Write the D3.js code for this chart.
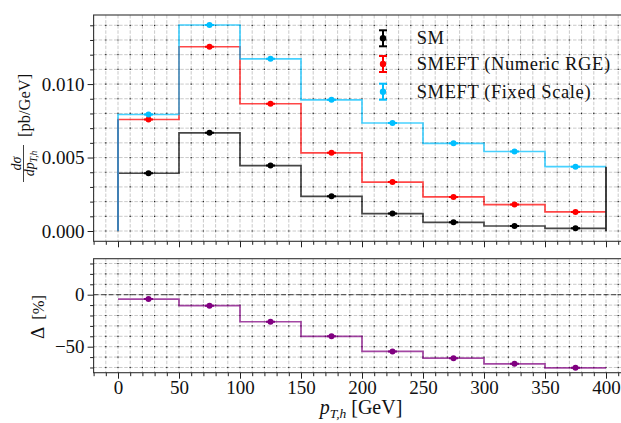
<!DOCTYPE html>
<html><head><meta charset="utf-8">
<script src="https://cdn.jsdelivr.net/npm/d3@7"></script>
<style>
body{margin:0;background:#fff}
svg{display:block}
text{font-family:"Liberation Serif","DejaVu Serif","Times New Roman",serif;fill:#111}
</style>
</head><body>
<svg id="c" width="621" height="423"></svg>
<script>
// ---------- data ----------
const binEdges   = [0, 50, 100, 150, 200, 250, 300, 350, 400];
const binCenters = [25, 75, 125, 175, 225, 275, 325, 375];
const smValues       = [0.00393, 0.00668, 0.00445, 0.00236, 0.00119, 0.00059, 0.00034, 0.00018];
const numericValues  = [0.00759, 0.01254, 0.00866, 0.00532, 0.00333, 0.00232, 0.00180, 0.00130];
const fixedValues    = [0.00793, 0.01402, 0.01172, 0.00893, 0.00735, 0.00597, 0.00541, 0.00438];
const deltaValues    = [-4.2, -10.6, -26.0, -40.0, -54.5, -61.0, -66.5, -70.3];
const seriesNames    = ["SM", "SMEFT (Numeric RGE)", "SMEFT (Fixed Scale)"];
const seriesColors   = ["#000000", "#ff0000", "#00bfff"];
const deltaColor     = "#800080";

const xMajorTicks  = [0, 50, 100, 150, 200, 250, 300, 350, 400];
const xTickLabels  = ["0", "50", "100", "150", "200", "250", "300", "350", "400"];
const topYTicks    = [0, 0.005, 0.010];
const topYLabels   = ["0.000", "0.005", "0.010"];
const botYTicks    = [-50, 0];
const botYLabels   = ["\u221250", "0"];

// ---------- layout ----------
const svg = d3.select("#c");
const L = 93.6, R = 630.4, T1 = 15, B1 = 241.3, T2 = 258.7, B2 = 372.7;
const x  = d3.scaleLinear().domain([-20, 420]).range([L, R]);
const y1 = d3.scaleLinear().domain([-0.0007, 0.0147]).range([B1, T1]);
const y2 = d3.scaleLinear().domain([-75, 34.6]).range([B2, T2]);

const xMinor = d3.range(-20, 421, 10);
const y1Minor = d3.range(0, 0.01451, 0.001);
const y2Minor = d3.range(-70, 31, 10);

const defs = svg.append("defs");
defs.append("clipPath").attr("id", "clip1").append("rect")
  .attr("x", L).attr("y", T1).attr("width", R - L).attr("height", B1 - T1);
defs.append("clipPath").attr("id", "clip2").append("rect")
  .attr("x", L).attr("y", T2).attr("width", R - L).attr("height", B2 - T2);

function drawGrid(g, yScale, yVals, top, bottom) {
  const step = x(10) - x(0);
  g.selectAll(".gv").data(xMinor).join("line")
    .attr("x1", d => x(d)).attr("x2", d => x(d))
    .attr("y1", top).attr("y2", bottom)
    .attr("stroke", "#bdbdbd").attr("stroke-width", 0.8)
    .attr("stroke-dasharray", "3.5,1.6");
  g.selectAll(".gh").data(yVals).join("line")
    .attr("x1", L).attr("x2", R)
    .attr("y1", d => yScale(d)).attr("y2", d => yScale(d))
    .attr("stroke", "#bdbdbd").attr("stroke-width", 0.8)
    .attr("stroke-dasharray", "3.5,1.6");
  g.selectAll(".gd").data(yVals).join("line")
    .attr("x1", x(-20) - 0.6).attr("x2", R)
    .attr("y1", d => yScale(d)).attr("y2", d => yScale(d))
    .attr("stroke", "#222").attr("stroke-width", 1.2)
    .attr("stroke-dasharray", `1.2,${step - 1.2}`);
}

// ---------- top panel ----------
const g1 = svg.append("g").attr("clip-path", "url(#clip1)");
drawGrid(g1, y1, y1Minor, T1, B1);

const stepLine = (ys) => d3.line().curve(d3.curveStepAfter).x(d => x(d[0])).y(d => ys(d[1]));
const allSeries = [smValues, numericValues, fixedValues];

allSeries.forEach((vals, i) => {
  const pts = [[binEdges[0], 0]].concat(vals.map((v, k) => [binEdges[k], v]));
  pts.push([binEdges[binEdges.length - 1], vals[vals.length - 1]]);
  g1.append("path").attr("d", stepLine(y1)(pts))
    .attr("fill", "none").attr("stroke", seriesColors[i])
    .attr("stroke-width", 1.7).attr("stroke-opacity", 0.72);
});
// left edge tint and right closing edge
g1.append("line")
  .attr("x1", x(binEdges[0])).attr("x2", x(binEdges[0]))
  .attr("y1", y1(0)).attr("y2", y1(numericValues[0]))
  .attr("stroke", "#3f7fb6").attr("stroke-width", 1.7);
const lastMax = d3.max(allSeries, s => s[s.length - 1]);
g1.append("line")
  .attr("x1", x(binEdges[8])).attr("x2", x(binEdges[8]))
  .attr("y1", y1(0)).attr("y2", y1(lastMax))
  .attr("stroke", "#222").attr("stroke-width", 1.7);

function markers(g, vals, ys, color) {
  const mg = g.append("g");
  mg.selectAll("line").data(vals).join("line")
    .attr("x1", (d, k) => x(binCenters[k]) - 4.5).attr("x2", (d, k) => x(binCenters[k]) + 4.5)
    .attr("y1", d => ys(d)).attr("y2", d => ys(d))
    .attr("stroke", color).attr("stroke-width", 2);
  mg.selectAll("circle").data(vals).join("circle")
    .attr("cx", (d, k) => x(binCenters[k])).attr("cy", d => ys(d))
    .attr("r", 3).attr("fill", color);
}
allSeries.forEach((vals, i) => markers(g1, vals, y1, seriesColors[i]));

// ---------- bottom panel ----------
const g2 = svg.append("g").attr("clip-path", "url(#clip2)");
drawGrid(g2, y2, y2Minor, T2, B2);
g2.append("line").attr("x1", L).attr("x2", R).attr("y1", y2(0)).attr("y2", y2(0))
  .attr("stroke", "#444").attr("stroke-width", 1.2).attr("stroke-dasharray", "5,2.5").attr("stroke-opacity", 0.85);
{
  const pts = deltaValues.map((v, k) => [binEdges[k], v]);
  pts.push([binEdges[8], deltaValues[7]]);
  g2.append("path").attr("d", stepLine(y2)(pts))
    .attr("fill", "none").attr("stroke", deltaColor)
    .attr("stroke-width", 1.7).attr("stroke-opacity", 0.72);
}
markers(g2, deltaValues, y2, deltaColor);

// ---------- spines ----------
[[T1, B1], [T2, B2]].forEach(([t, b]) => {
  svg.append("rect").attr("x", L).attr("y", t).attr("width", R - L).attr("height", b - t)
    .attr("fill", "none").attr("stroke", "#333").attr("stroke-width", 1.1);
});

// ---------- axes ----------
function styleAxis(sel, fs) {
  sel.attr("font-family", null);
  sel.select(".domain").remove();
  sel.selectAll(".tick line").attr("stroke", "#222").attr("stroke-width", 1);
  sel.selectAll(".tick text").attr("font-size", fs).attr("fill", "#111")
    .style("font-family", '"Liberation Serif","DejaVu Serif","Times New Roman",serif');
}
styleAxis(svg.append("g").attr("transform", `translate(0,${B1})`)
  .call(d3.axisBottom(x).tickValues(xMinor.filter(v => !xMajorTicks.includes(v))).tickSize(3.5).tickFormat("")), 0);
styleAxis(svg.append("g").attr("transform", `translate(0,${B1})`)
  .call(d3.axisBottom(x).tickValues(xMajorTicks).tickSize(6).tickFormat("")), 0);
styleAxis(svg.append("g").attr("transform", `translate(${L},0)`)
  .call(d3.axisLeft(y1).tickValues(y1Minor.filter(v => !topYTicks.some(t => Math.abs(t - v) < 1e-9))).tickSize(3.5).tickFormat("")), 0);
styleAxis(svg.append("g").attr("transform", `translate(${L},0)`)
  .call(d3.axisLeft(y1).tickValues(topYTicks).tickSize(6).tickPadding(3)
    .tickFormat((d, i) => topYLabels[i])), 19);
styleAxis(svg.append("g").attr("transform", `translate(0,${B2})`)
  .call(d3.axisBottom(x).tickValues(xMinor.filter(v => !xMajorTicks.includes(v))).tickSize(3.5).tickFormat("")), 0);
styleAxis(svg.append("g").attr("transform", `translate(0,${B2})`)
  .call(d3.axisBottom(x).tickValues(xMajorTicks).tickSize(6).tickPadding(2)
    .tickFormat((d, i) => xTickLabels[i])), 19);
styleAxis(svg.append("g").attr("transform", `translate(${L},0)`)
  .call(d3.axisLeft(y2).tickValues(y2Minor.filter(v => !botYTicks.includes(v))).tickSize(3.5).tickFormat("")), 0);
styleAxis(svg.append("g").attr("transform", `translate(${L},0)`)
  .call(d3.axisLeft(y2).tickValues(botYTicks).tickSize(6).tickPadding(3)
    .tickFormat((d, i) => botYLabels[i])), 19);

// ---------- axis labels ----------
const xl = svg.append("text").attr("x", 361).attr("y", 414).attr("text-anchor", "middle");
xl.append("tspan").attr("font-size", 20).attr("font-style", "italic").text("p");
xl.append("tspan").attr("font-size", 13.5).attr("font-style", "italic").attr("dy", 4).text("T,h");
xl.append("tspan").attr("font-size", 20).attr("dy", -4).attr("dx", 5).text("[GeV]");

const yl = svg.append("g").attr("transform", "translate(0,128) rotate(-90)");
yl.append("text").attr("x", -9).attr("y", 30).attr("font-size", 16.5).text("[pb/GeV]");
yl.append("line").attr("x1", -54).attr("x2", -17).attr("y1", 23.5).attr("y2", 23.5)
  .attr("stroke", "#111").attr("stroke-width", 0.8);
const num = yl.append("text").attr("x", -35.5).attr("y", 21).attr("text-anchor", "middle")
  .attr("font-size", 14).attr("font-style", "italic");
num.append("tspan").text("d\u03c3");
const den = yl.append("text").attr("x", -35.5).attr("y", 34).attr("text-anchor", "middle")
  .attr("font-size", 14).attr("font-style", "italic");
den.append("tspan").text("dp");
den.append("tspan").attr("font-size", 9.5).attr("dy", 2.5).text("T,h");

const yl2 = svg.append("g").attr("transform", "translate(0,317) rotate(-90)");
const t2 = yl2.append("text").attr("x", 0).attr("y", 44).attr("text-anchor", "middle");
t2.append("tspan").attr("font-size", 19).text("\u0394");
t2.append("tspan").attr("font-size", 16.5).attr("dx", 7).text("[%]");

// ---------- legend ----------
const legY = [38.3, 64, 91.7];
const lg = svg.append("g");
seriesNames.forEach((name, i) => {
  const cx = 383, cy = legY[i], c = seriesColors[i];
  lg.append("line").attr("x1", cx).attr("x2", cx).attr("y1", cy - 8).attr("y2", cy + 8)
    .attr("stroke", c).attr("stroke-width", 2);
  [cy - 8, cy + 8].forEach(yy => lg.append("line").attr("x1", cx - 4).attr("x2", cx + 4)
    .attr("y1", yy).attr("y2", yy).attr("stroke", c).attr("stroke-width", 2));
  lg.append("circle").attr("cx", cx).attr("cy", cy).attr("r", 3.2).attr("fill", c);
  lg.append("text").attr("x", 416.7).attr("y", cy + 6).attr("font-size", 18.5)
    .attr("letter-spacing", 0.6).text(name);
});
</script>
</body></html>
